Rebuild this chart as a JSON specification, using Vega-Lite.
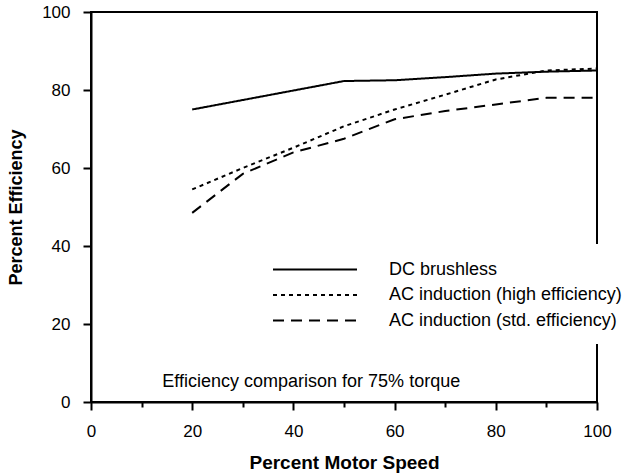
{
  "$schema": "https://vega.github.io/schema/vega-lite/v6.json",
  "width": 506,
  "height": 390,
  "autosize": "none",
  "padding": {"left": 91, "top": 12, "right": 38, "bottom": 71},
  "background": "white",
  "config": {
    "view": {"stroke": "black", "strokeWidth": 2},
    "font": "Liberation Sans",
    "axis": {
      "grid": false,
      "domainColor": "black",
      "domainWidth": 2,
      "tickColor": "black",
      "tickWidth": 2,
      "labelColor": "black",
      "labelFont": "Liberation Sans",
      "labelFontSize": 17,
      "labelPadding": 13,
      "labelFlush": false,
      "titleFont": "Liberation Sans",
      "titleFontSize": 19,
      "titleFontWeight": "bold",
      "titleColor": "black"
    }
  },
  "layer": [
    {
      "data": {
        "values": [
          {"speed": 20, "eff": 75.0, "motor": "DC brushless"},
          {"speed": 50, "eff": 82.3, "motor": "DC brushless"},
          {"speed": 60, "eff": 82.5, "motor": "DC brushless"},
          {"speed": 70, "eff": 83.3, "motor": "DC brushless"},
          {"speed": 80, "eff": 84.2, "motor": "DC brushless"},
          {"speed": 90, "eff": 84.7, "motor": "DC brushless"},
          {"speed": 100, "eff": 85.0, "motor": "DC brushless"},
          {"speed": 20, "eff": 54.5, "motor": "AC induction (high efficiency)"},
          {"speed": 30, "eff": 60.0, "motor": "AC induction (high efficiency)"},
          {"speed": 40, "eff": 65.2, "motor": "AC induction (high efficiency)"},
          {"speed": 50, "eff": 70.7, "motor": "AC induction (high efficiency)"},
          {"speed": 60, "eff": 75.0, "motor": "AC induction (high efficiency)"},
          {"speed": 70, "eff": 78.8, "motor": "AC induction (high efficiency)"},
          {"speed": 80, "eff": 82.7, "motor": "AC induction (high efficiency)"},
          {"speed": 90, "eff": 85.0, "motor": "AC induction (high efficiency)"},
          {"speed": 100, "eff": 85.5, "motor": "AC induction (high efficiency)"},
          {"speed": 20, "eff": 48.5, "motor": "AC induction (std. efficiency)"},
          {"speed": 30, "eff": 58.5, "motor": "AC induction (std. efficiency)"},
          {"speed": 40, "eff": 64.0, "motor": "AC induction (std. efficiency)"},
          {"speed": 50, "eff": 67.5, "motor": "AC induction (std. efficiency)"},
          {"speed": 60, "eff": 72.5, "motor": "AC induction (std. efficiency)"},
          {"speed": 70, "eff": 74.6, "motor": "AC induction (std. efficiency)"},
          {"speed": 80, "eff": 76.3, "motor": "AC induction (std. efficiency)"},
          {"speed": 90, "eff": 78.0, "motor": "AC induction (std. efficiency)"},
          {"speed": 100, "eff": 78.0, "motor": "AC induction (std. efficiency)"}
        ]
      },
      "mark": {"type": "line", "color": "black", "strokeWidth": 2},
      "encoding": {
        "x": {
          "field": "speed", "type": "quantitative",
          "scale": {"domain": [0, 100], "nice": false},
          "axis": {
            "title": "Percent Motor Speed",
            "values": [0, 10, 20, 30, 40, 50, 60, 70, 80, 90, 100],
            "labelExpr": "datum.value % 20 === 0 ? datum.label : ''",
            "tickSize": {"condition": {"test": "datum.value % 20 === 0", "value": 8}, "value": 5},
            "titlePadding": 14
          }
        },
        "y": {
          "field": "eff", "type": "quantitative",
          "scale": {"domain": [0, 100], "nice": false},
          "axis": {
            "title": "Percent Efficiency",
            "titleFontSize": 18,
            "values": [0, 10, 20, 30, 40, 50, 60, 70, 80, 90, 100],
            "labelExpr": "datum.value % 20 === 0 ? datum.label : ''",
            "tickSize": {"condition": {"test": "datum.value % 20 === 0", "value": 8}, "value": 5},
            "titlePadding": 16
          }
        },
        "strokeDash": {
          "field": "motor", "type": "nominal",
          "scale": {
            "domain": ["DC brushless", "AC induction (high efficiency)", "AC induction (std. efficiency)"],
            "range": [[1, 0], [4, 4], [11, 7]]
          },
          "legend": {
            "title": null,
            "orient": "none",
            "legendX": 167,
            "legendY": 232,
            "symbolType": "M-1,0H7",
            "symbolSize": 441,
            "symbolStrokeWidth": 2,
            "symbolStrokeColor": "black",
            "labelFont": "Liberation Sans",
            "labelFontSize": 18,
            "labelColor": "black",
            "labelOffset": 94,
            "labelLimit": 400,
            "fillColor": "white",
            "padding": 14,
            "rowPadding": 4.5
          }
        }
      }
    },
    {
      "data": {"values": [{"x": 14.1, "y": 3.85, "label": "Efficiency comparison for 75% torque"}]},
      "mark": {"type": "text", "align": "left", "baseline": "alphabetic", "font": "Liberation Sans", "fontSize": 18, "color": "black"},
      "encoding": {
        "x": {"field": "x", "type": "quantitative"},
        "y": {"field": "y", "type": "quantitative"},
        "text": {"field": "label"}
      }
    }
  ]
}
